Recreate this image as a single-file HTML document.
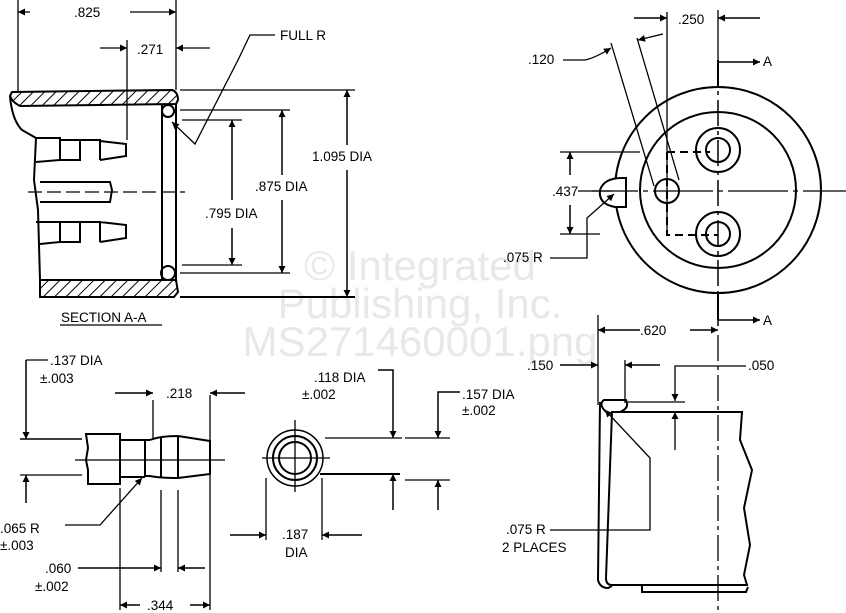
<!DOCTYPE html>
<html><head><style>
html,body{margin:0;padding:0;background:#fff}
svg{display:block}
text{font-family:"Liberation Sans",sans-serif;font-size:13.5px;fill:#000}
.w{font-size:42px;fill:#e8e8e8}
</style></head><body>
<svg width="846" height="613" viewBox="0 0 846 613" xmlns="http://www.w3.org/2000/svg">
<defs>
<marker id="a" viewBox="0 0 10 10" refX="10" refY="5" markerWidth="10" markerHeight="7" orient="auto-start-reverse" markerUnits="userSpaceOnUse"><path d="M0,0L10,5L0,10z"/></marker>
<pattern id="h" width="8" height="8" patternUnits="userSpaceOnUse" patternTransform="rotate(45)"><line x1="0" y1="0" x2="0" y2="8" stroke="#000" stroke-width="2"/></pattern>
</defs>
<g class="wm"><text class="w" x="420" y="280" text-anchor="middle">© Integrated</text>
<text class="w" x="420" y="318" text-anchor="middle">Publishing, Inc.</text>
<text class="w" x="420" y="356" text-anchor="middle">MS271460001.png</text></g>
<g stroke="#000" fill="none" stroke-width="1.3">
<line x1="18" y1="0" x2="18" y2="92"/><line x1="176" y1="0" x2="176" y2="90"/>
<line x1="30" y1="12" x2="18" y2="12" marker-end="url(#a)"/><line x1="130" y1="12" x2="176" y2="12" marker-end="url(#a)"/>
<line x1="127" y1="40" x2="127" y2="140"/>
<line x1="100" y1="48" x2="127" y2="48" marker-end="url(#a)"/><line x1="210" y1="48" x2="176" y2="48" marker-end="url(#a)"/>
<polyline points="275,35 250,35 238,60 195,144 172,122" marker-end="url(#a)"/>
<path d="M12,92 L172,90 Q178,92 178,100 L176,104 L20,106 Q12,102 10,96 Z" fill="url(#h)" stroke-width="2"/>
<path d="M40,280 L176,280 L178,292 L174,297 L40,297 Z" fill="url(#h)" stroke-width="2"/>
<path d="M10,96 Q12,120 22,130 L36,138 L34,180 L38,210 L40,280" stroke-width="2"/>
<path d="M162,104 L162,280 M176,104 L176,282" stroke-width="2"/>
<circle cx="168" cy="111" r="6" stroke-width="2"/><circle cx="168" cy="273" r="7" stroke-width="2"/>
<path d="M36,138 L60,138 L60,160 L36,162 M60,138 L60,161 M60,140 L80,140 L80,160 L60,160 M80,140 L100,140 L100,160 M100,141 L126,144 L126,156 L100,160" stroke-width="2"/>
<path d="M36,222 L60,222 L60,242 L40,244 M60,222 L80,222 L80,242 L60,242 M80,222 L100,222 L100,242 M100,222 L126,225 L126,238 L100,242" stroke-width="2"/>
<path d="M40,182 L110,182 L112,190 L110,202 L40,202" stroke-width="2"/>
<line x1="28" y1="192" x2="185" y2="192" stroke-dasharray="14,5"/>
<line x1="180" y1="90" x2="355" y2="90"/><line x1="180" y1="297" x2="355" y2="297" stroke-width="2"/>
<line x1="180" y1="110" x2="290" y2="110"/><line x1="180" y1="273" x2="290" y2="273"/>
<line x1="182" y1="120" x2="242" y2="120"/><line x1="182" y1="265" x2="242" y2="265"/>
<line x1="347" y1="145" x2="347" y2="90" marker-end="url(#a)" stroke-width="1.5"/><line x1="347" y1="170" x2="347" y2="297" marker-end="url(#a)" stroke-width="1.5"/>
<line x1="282" y1="175" x2="282" y2="110" marker-end="url(#a)" stroke-width="1.5"/><line x1="282" y1="200" x2="282" y2="273" marker-end="url(#a)" stroke-width="1.5"/>
<line x1="232" y1="200" x2="232" y2="120" marker-end="url(#a)" stroke-width="1.5"/><line x1="232" y1="228" x2="232" y2="265" marker-end="url(#a)" stroke-width="1.5"/>
<line x1="60" y1="325" x2="162" y2="325"/>
<circle cx="718" cy="190" r="103" stroke-width="2"/>
<circle cx="718" cy="190" r="78" stroke-width="2"/>
<circle cx="718" cy="150" r="22" stroke-width="2"/><circle cx="718" cy="150" r="12" stroke-width="2"/>
<circle cx="718" cy="234" r="22" stroke-width="2"/><circle cx="718" cy="234" r="12" stroke-width="2"/>
<circle cx="667" cy="191" r="12" stroke-width="2"/>
<path d="M622,178 L626,178 L626,207 L615,207 Q598,204 600,190 Q604,178 622,178Z" fill="#fff" stroke-width="2"/>
<line x1="718" y1="60" x2="718" y2="330" stroke-width="1.5" stroke-dasharray="26,5,4,5"/>
<line x1="578" y1="191" x2="846" y2="191" stroke-dasharray="60,5,5,5"/>
<line x1="667" y1="12" x2="667" y2="235"/>
<path d="M667,152 L667,235 L718,235 M667,152 L710,152" stroke-width="2" stroke-dasharray="8,5"/>
<line x1="718" y1="60" x2="718" y2="88" stroke-width="2"/><line x1="718" y1="62" x2="760" y2="62" marker-end="url(#a)" stroke-width="1.5"/>
<line x1="718" y1="293" x2="718" y2="320" stroke-width="2"/><line x1="718" y1="320" x2="760" y2="320" marker-end="url(#a)" stroke-width="1.5"/>
<line x1="718" y1="10" x2="718" y2="60"/>
<line x1="634" y1="18" x2="667" y2="18" marker-end="url(#a)" stroke-width="1.5"/><line x1="760" y1="18" x2="718" y2="18" marker-end="url(#a)" stroke-width="1.5"/>
<line x1="611" y1="43" x2="654" y2="186"/><line x1="637" y1="38" x2="679" y2="180"/>
<path d="M563,60 L585,60 Q595,58 611,48" marker-end="url(#a)"/>
<line x1="663" y1="34" x2="638" y2="40" marker-end="url(#a)"/>
<line x1="560" y1="152" x2="640" y2="152"/><line x1="560" y1="234" x2="600" y2="234"/><line x1="592" y1="191" x2="612" y2="191"/>
<line x1="570" y1="175" x2="570" y2="152" marker-end="url(#a)" stroke-width="1.5"/><line x1="570" y1="205" x2="570" y2="234" marker-end="url(#a)" stroke-width="1.5"/>
<polyline points="550,258 587,258 587,218 614,194" marker-end="url(#a)"/>
<line x1="598" y1="315" x2="598" y2="405"/>
<line x1="640" y1="330" x2="598" y2="330" marker-end="url(#a)" stroke-width="1.5"/><line x1="690" y1="330" x2="718" y2="330" marker-end="url(#a)" stroke-width="1.5"/>
<line x1="718" y1="335" x2="718" y2="610" stroke-dasharray="26,5,4,5"/>
<line x1="625" y1="360" x2="625" y2="403"/>
<line x1="560" y1="365" x2="598" y2="365" marker-end="url(#a)" stroke-width="1.5"/><line x1="660" y1="365" x2="625" y2="365" marker-end="url(#a)" stroke-width="1.5"/>
<polyline points="746,366 675,366 675,401" marker-end="url(#a)"/>
<line x1="628" y1="402" x2="685" y2="402"/>
<line x1="675" y1="450" x2="675" y2="412" marker-end="url(#a)"/>
<path d="M612,412 L742,412 L740,440 L752,470 L744,508 L750,545 L744,575 L747,585 L612,585 Q606,585 606,578 Z" stroke-width="2"/>
<path d="M606,412 Q598,404 604,400 L626,400 Q630,408 620,412 M600,402 L598,580 Q600,588 608,588 L612,586" stroke-width="2"/>
<path d="M642,585 L642,592 L746,592 L748,587" stroke-width="2"/>
<polyline points="550,530 650,530 650,458 605,410" marker-end="url(#a)"/>
<line x1="26" y1="360" x2="26" y2="439" marker-end="url(#a)" stroke-width="1.5"/><line x1="26" y1="360" x2="48" y2="360"/>
<line x1="20" y1="439" x2="82" y2="439" stroke-width="1.5"/><line x1="20" y1="475" x2="82" y2="475"/>
<line x1="26" y1="503" x2="26" y2="475" marker-end="url(#a)" stroke-width="1.5"/>
<path d="M86,434 L120,434 L120,484 L88,484 L88,470 L86,460 L88,448 Z" stroke-width="2"/>
<path d="M120,440 L150,440 M120,477 L145,477 M145,440 L145,476 M150,440 Q160,436 178,436 L210,441 L210,474 L178,478 Q160,478 150,476 L145,476 M161,438 L161,477 M178,436 L178,478" stroke-width="2"/>
<line x1="75" y1="460" x2="225" y2="460"/>
<line x1="153" y1="400" x2="153" y2="438"/><line x1="210" y1="395" x2="210" y2="610"/><line x1="120" y1="488" x2="120" y2="610"/>
<line x1="161" y1="490" x2="161" y2="572"/><line x1="178" y1="490" x2="178" y2="572"/>
<line x1="115" y1="393" x2="153" y2="393" marker-end="url(#a)" stroke-width="1.5"/><line x1="245" y1="393" x2="210" y2="393" marker-end="url(#a)" stroke-width="1.5"/>
<polyline points="65,525 100,525 142,478" marker-end="url(#a)"/>
<line x1="78" y1="568" x2="161" y2="568" marker-end="url(#a)" stroke-width="1.5"/><line x1="205" y1="568" x2="178" y2="568" marker-end="url(#a)" stroke-width="1.5"/>
<line x1="140" y1="605" x2="120" y2="605" marker-end="url(#a)" stroke-width="1.5"/><line x1="190" y1="605" x2="210" y2="605" marker-end="url(#a)" stroke-width="1.5"/>
<circle cx="295" cy="458" r="28" stroke-width="1.5"/><circle cx="295" cy="458" r="22" stroke-width="2"/><circle cx="295" cy="458" r="16" stroke-width="2"/>
<line x1="262" y1="458" x2="330" y2="458"/><line x1="295" y1="420" x2="295" y2="492"/>
<line x1="325" y1="438" x2="402" y2="438"/><line x1="320" y1="474" x2="400" y2="474" stroke-width="2"/>
<line x1="405" y1="438" x2="450" y2="438"/><line x1="405" y1="480" x2="450" y2="480"/>
<polyline points="378,370 393,370 393,438" marker-end="url(#a)" stroke-width="1.5"/>
<line x1="393" y1="510" x2="393" y2="474" marker-end="url(#a)" stroke-width="1.5"/>
<polyline points="460,392 438,392 438,438" marker-end="url(#a)" stroke-width="1.5"/>
<line x1="438" y1="510" x2="438" y2="480" marker-end="url(#a)" stroke-width="1.5"/>
<line x1="266" y1="478" x2="266" y2="540"/><line x1="322" y1="478" x2="322" y2="540"/>
<line x1="230" y1="535" x2="266" y2="535" marker-end="url(#a)" stroke-width="1.5"/><line x1="362" y1="535" x2="322" y2="535" marker-end="url(#a)" stroke-width="1.5"/>
</g>
<text x="74" y="17">.825</text><text x="137" y="54">.271</text><text x="280" y="40">FULL  R</text>
<text x="312" y="161">1.095 DIA</text><text x="255" y="191">.875 DIA</text><text x="205" y="218">.795 DIA</text>
<text x="61" y="322">SECTION  A-A</text>
<text x="678" y="24">.250</text><text x="528" y="64">.120</text><text x="763" y="66">A</text>
<text x="552" y="196">.437</text><text x="503" y="262">.075  R</text>
<text x="640" y="335">.620</text><text x="763" y="325">A</text>
<text x="527" y="370">.150</text><text x="748" y="370">.050</text>
<text x="506" y="534">.075  R</text><text x="502" y="552">2 PLACES</text>
<text x="50" y="365">.137 DIA</text><text x="40" y="383">±.003</text>
<text x="166" y="398">.218</text>
<text x="314" y="382">.118 DIA</text><text x="302" y="399">±.002</text>
<text x="462" y="399">.157 DIA</text><text x="462" y="415">±.002</text>
<text x="0" y="533">.065  R</text><text x="0" y="550">±.003</text>
<text x="45" y="573">.060</text><text x="35" y="591">±.002</text>
<text x="147" y="610">.344</text>
<text x="282" y="539">.187</text><text x="285" y="557">DIA</text>
</svg>
</body></html>
